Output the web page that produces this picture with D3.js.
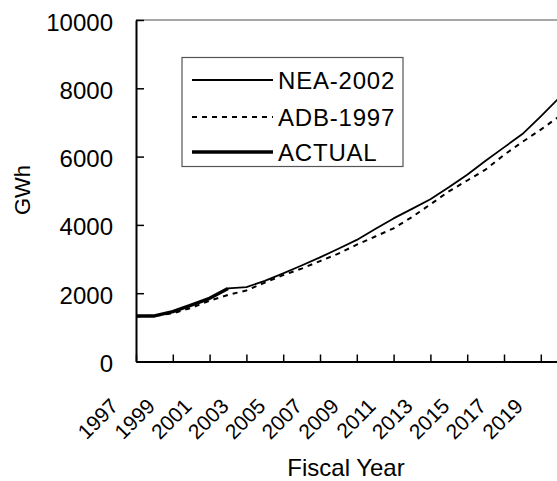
<!DOCTYPE html>
<html>
<head>
<meta charset="utf-8">
<script src="https://cdn.jsdelivr.net/npm/d3@7"></script>
<style>
  body { margin: 0; background: #fff; }
  svg { display: block; font-family: "Liberation Sans", Arial, sans-serif; }
</style>
</head>
<body>
<svg id="chart" width="557" height="481"></svg>
<script>
// fiscal years on the category axis
const years = [1997, 1998, 1999, 2000, 2001, 2002, 2003, 2004, 2005, 2006, 2007, 2008,
               2009, 2010, 2011, 2012, 2013, 2014, 2015, 2016, 2017, 2018, 2019, 2020];
const labelYears = [1997, 1999, 2001, 2003, 2005, 2007, 2009, 2011, 2013, 2015, 2017, 2019];
const yTicks = [0, 2000, 4000, 6000, 8000, 10000];

// GWh
const nea2002 = [1330, 1335, 1460, 1650, 1850, 2140, 2180, 2360, 2580, 2810, 3050, 3300,
                 3560, 3880, 4190, 4470, 4750, 5100, 5470, 5880, 6270, 6660, 7180, 7720];
const adb1997 = [1320, 1340, 1410, 1570, 1780, 1950, 2080, 2310, 2530, 2720, 2940, 3160,
                 3420, 3660, 3900, 4230, 4600, 4980, 5300, 5620, 6050, 6430, 6790, 7180];
const actual = [1330, 1335, 1460, 1650, 1850, 2140];

const series = [
    { name: "NEA-2002", values: nea2002, width: 1.8, dash: null },
    { name: "ADB-1997", values: adb1997, width: 2, dash: "5,5" },
    { name: "ACTUAL", values: actual, width: 3.5, dash: null }
];

const svg = d3.select("#chart");

const x = d3.scalePoint()
    .domain(years)
    .range([136, 559.2]);

const y = d3.scaleLinear()
    .domain([0, 10000])
    .range([361.5, 20]);

// top border of plot area
svg.append("line")
    .attr("x1", x(1997)).attr("x2", x(2020))
    .attr("y1", y(10000)).attr("y2", y(10000))
    .attr("stroke", "#888")
    .attr("stroke-width", 1.3);

const line = d3.line()
    .x((d, i) => x(years[i]))
    .y(d => y(d));

series.forEach(s => {
    svg.append("path")
        .datum(s.values)
        .attr("fill", "none")
        .attr("stroke", "#000")
        .attr("stroke-width", s.width)
        .attr("stroke-dasharray", s.dash)
        .attr("stroke-linejoin", "round")
        .attr("d", line);
});

// axes
const xAxis = svg.append("g")
    .attr("transform", `translate(0,${y(0)})`)
    .call(d3.axisBottom(x).tickValues(labelYears).tickSizeInner(-7).tickSizeOuter(0));

xAxis.selectAll("text")
    .attr("x", 0).attr("y", 0).attr("dy", 0)
    .attr("text-anchor", "end")
    .attr("transform", "translate(-17,46) rotate(-45)")
    .style("font-size", "21px")
    .attr("fill", "#000");

const yAxis = svg.append("g")
    .attr("transform", `translate(${x(1997)},0)`)
    .call(d3.axisLeft(y).tickValues(yTicks).tickFormat(d3.format("d"))
        .tickSizeInner(-8).tickSizeOuter(0).tickPadding(23));

yAxis.selectAll("text")
    .attr("dy", "0.42em")
    .style("font-size", "24px")
    .attr("fill", "#000");

svg.selectAll(".domain").attr("stroke", "#000").attr("stroke-width", 2);
svg.selectAll(".tick line").attr("stroke", "#000").attr("stroke-width", 1.5);

// axis titles
svg.append("text")
    .attr("x", 346).attr("y", 476)
    .attr("text-anchor", "middle")
    .style("font-size", "24px")
    .text("Fiscal Year");

svg.append("text")
    .attr("transform", "translate(30,190) rotate(-90)")
    .attr("text-anchor", "middle")
    .style("font-size", "22px")
    .text("GWh");

// legend
const legend = svg.append("g");
legend.append("rect")
    .attr("x", 182).attr("y", 57.5)
    .attr("width", 221).attr("height", 109)
    .attr("fill", "#fff")
    .attr("stroke", "#555")
    .attr("stroke-width", 1.2);

const legendY = [80, 117, 152];
series.forEach((s, i) => {
    legend.append("line")
        .attr("x1", 192).attr("x2", 273)
        .attr("y1", legendY[i]).attr("y2", legendY[i])
        .attr("stroke", "#000")
        .attr("stroke-width", s.width)
        .attr("stroke-dasharray", s.dash);
    legend.append("text")
        .attr("x", 278).attr("y", legendY[i])
        .attr("dy", "0.36em")
        .style("font-size", "24px")
        .style("letter-spacing", "0.8px")
        .text(s.name);
});
</script>
</body>
</html>
